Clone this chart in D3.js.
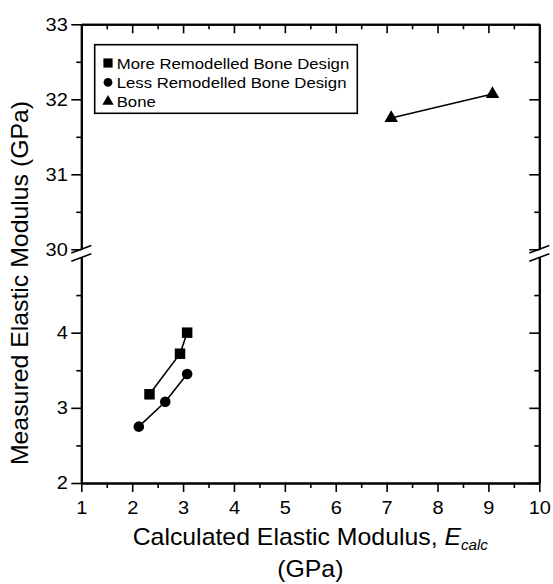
<!DOCTYPE html>
<html>
<head>
<meta charset="utf-8">
<script src="https://cdn.jsdelivr.net/npm/d3@7"></script>
<style>
  body { margin: 0; background: #fff; }
  text { font-family: "Liberation Sans", Arial, sans-serif; fill: #000; }
</style>
</head>
<body>
<div id="body"></div>
<script>
// data
var moreX = [2.34, 2.94, 3.08];
var moreY = [3.18, 3.72, 4.00];
var lessX = [2.13, 2.65, 3.08];
var lessY = [2.75, 3.08, 3.45];
var boneX = [7.09, 9.08];
var boneY = [31.75, 32.07];

var seriesNames = ["More Remodelled Bone Design", "Less Remodelled Bone Design", "Bone"];
var xTicks = [1, 2, 3, 4, 5, 6, 7, 8, 9, 10];
var xMinor = [1.5, 2.5, 3.5, 4.5, 5.5, 6.5, 7.5, 8.5, 9.5];
var yLowTicks = [2, 3, 4];
var yLowMinor = [2.5, 3.5, 4.5];
var yHighTicks = [30, 31, 32, 33];
var yHighMinor = [30.5, 31.5, 32.5];

var svgWidth = 553;
var svgHeight = 584;
var sx = 1.08; // the source text is a bit wide

var margin = { top: 24.3, left: 81.3, right: 13.7, bottom: 101 };
var width = svgWidth - margin.left - margin.right;

var svg = d3.select("#body").append("svg")
    .attr("width", svgWidth)
    .attr("height", svgHeight);

var x = d3.scaleLinear().domain([1, 10]).range([margin.left, margin.left + width]);
var yLow = d3.scaleLinear().domain([2, 5]).range([483, 257.5]);
var yHigh = d3.scaleLinear().domain([30, 33]).range([249.3, margin.top]);

function styleAxis(g, fontSize) {
    g.selectAll(".domain").attr("stroke", "#000").attr("stroke-width", 2);
    g.selectAll(".tick line").attr("stroke", "#000").attr("stroke-width", 1.6);
    g.selectAll("text").style("font-size", fontSize + "px").attr("fill", "#000");
    g.attr("font-family", null);
}

function drawAxis(axis, transform, labels) {
    var g = svg.append("g").attr("transform", transform).call(axis);
    styleAxis(g, 18.5);
    if (!labels) g.selectAll("text").remove();
    return g;
}

// bottom
var bottom = drawAxis(d3.axisBottom(x).tickValues(xTicks).tickSize(9).tickSizeOuter(0).tickFormat(d3.format("d")),
    "translate(0," + yLow(2) + ")", true);
bottom.selectAll("text").attr("y", 17.5).attr("transform", "scale(" + sx + ",1)")
    .attr("x", 0);
drawAxis(d3.axisBottom(x).tickValues(xMinor).tickSize(5).tickSizeOuter(0), "translate(0," + yLow(2) + ")", false);

// top (ticks inward)
drawAxis(d3.axisBottom(x).tickValues(xTicks).tickSize(9).tickSizeOuter(0), "translate(0," + yHigh(33) + ")", false);
drawAxis(d3.axisBottom(x).tickValues(xMinor).tickSize(5).tickSizeOuter(0), "translate(0," + yHigh(33) + ")", false);

// left, both pieces
[[yLow, yLowTicks, yLowMinor], [yHigh, yHighTicks, yHighMinor]].forEach(function(p) {
    var g = drawAxis(d3.axisLeft(p[0]).tickValues(p[1]).tickSize(10).tickSizeOuter(0).tickFormat(d3.format("d")),
        "translate(" + x(1) + ",0)", true);
    g.selectAll("text").attr("x", -13.5 / sx).attr("transform", "scale(" + sx + ",1)");
    drawAxis(d3.axisLeft(p[0]).tickValues(p[2]).tickSize(5).tickSizeOuter(0), "translate(" + x(1) + ",0)", false);
    // right side, ticks inward
    drawAxis(d3.axisLeft(p[0]).tickValues(p[1]).tickSize(10).tickSizeOuter(0), "translate(" + x(10) + ",0)", false);
    drawAxis(d3.axisLeft(p[0]).tickValues(p[2]).tickSize(5).tickSizeOuter(0), "translate(" + x(10) + ",0)", false);
});

// axis break marks
[x(1), x(10)].forEach(function(xx) {
    [yHigh(30), yLow(5)].forEach(function(yy) {
        svg.append("line")
            .attr("x1", xx - 10).attr("y1", yy + 3.7)
            .attr("x2", xx + 10).attr("y2", yy - 3.7)
            .attr("stroke", "#000").attr("stroke-width", 1.6);
    });
});

// series
function drawSeries(xs, ys, yScale, symbol, size) {
    var pts = xs.map(function(d, i) { return [x(d), yScale(ys[i])]; });
    svg.append("path")
        .attr("d", d3.line()(pts))
        .attr("fill", "none").attr("stroke", "#000").attr("stroke-width", 1.6);
    svg.selectAll(null).data(pts).enter().append("path")
        .attr("transform", function(d) { return "translate(" + d[0] + "," + d[1] + ")"; })
        .attr("d", d3.symbol().type(symbol).size(size))
        .attr("fill", "#000");
}

drawSeries(moreX, moreY, yLow, d3.symbolSquare, 110);
drawSeries(lessX, lessY, yLow, d3.symbolCircle, 88);
drawSeries(boneX, boneY, yHigh, d3.symbolTriangle, 80);

// legend
var legend = svg.append("g");
legend.append("rect")
    .attr("x", 94.7).attr("y", 44.7)
    .attr("width", 262.6).attr("height", 68.6)
    .attr("fill", "#fff").attr("stroke", "#000").attr("stroke-width", 1.6);

var legendSymbols = [d3.symbolSquare, d3.symbolCircle, d3.symbolTriangle];
var legendSizes = [85, 60, 55];
seriesNames.forEach(function(name, i) {
    var cy = 63 + i * 19.3;
    legend.append("path")
        .attr("transform", "translate(108," + cy + ")")
        .attr("d", d3.symbol().type(legendSymbols[i]).size(legendSizes[i]))
        .attr("fill", "#000");
    legend.append("text")
        .attr("transform", "translate(116.7," + (cy + 5.6) + ") scale(" + sx + ",1)")
        .style("font-size", "15.5px")
        .text(name);
});

// axis titles
var xTitle = svg.append("text")
    .attr("transform", "translate(" + ((x(1) + x(10)) / 2) + ",545) scale(" + sx + ",1)")
    .attr("text-anchor", "middle")
    .style("font-size", "23px");
xTitle.append("tspan").text("Calculated Elastic Modulus, ");
xTitle.append("tspan").style("font-style", "italic").text("E");
xTitle.append("tspan").style("font-style", "italic").style("font-size", "14px").attr("dy", 5).text("calc");

svg.append("text")
    .attr("transform", "translate(" + (x(10) + x(1)) / 2 + ",577) scale(" + sx + ",1)")
    .attr("text-anchor", "middle")
    .style("font-size", "23px")
    .text("(GPa)");

svg.append("text")
    .attr("transform", "translate(28,283) rotate(-90) scale(" + sx + ",1)")
    .attr("text-anchor", "middle")
    .style("font-size", "23px")
    .text("Measured Elastic Modulus (GPa)");
</script>
</body>
</html>
